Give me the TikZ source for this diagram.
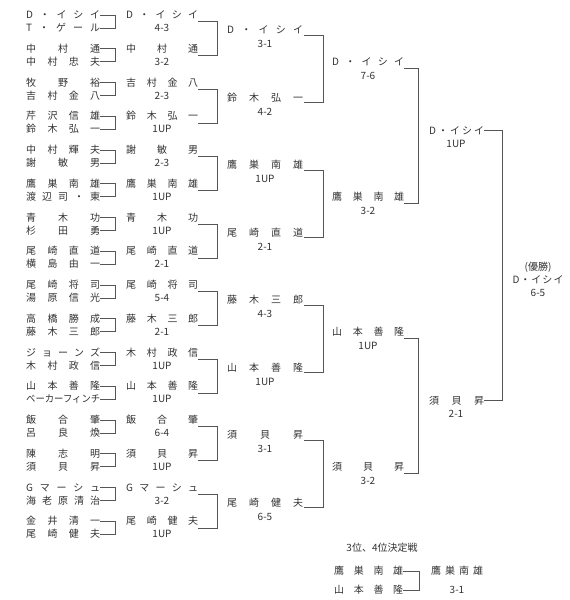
\documentclass[tikz,border=0pt]{standalone}
\usepackage{fontspec}
\usepackage{graphicx}
\setmainfont{Noto Sans CJK JP}
\definecolor{txt}{HTML}{333333}
\definecolor{ln}{HTML}{555555}
\def\spreadA#1{\ifx#1\relax\else #1\expandafter\spreadB\fi}
\def\spreadB#1{\ifx#1\relax\else\hfill #1\expandafter\spreadB\fi}
\newcommand\spr[2]{\makebox[#1][s]{\expandafter\spreadA#2\relax}}
\tikzset{
  nm/.style={inner sep=0pt, anchor=west, text=txt, font=\fontsize{10}{11}\selectfont, text height=8.2pt, text depth=1pt},
  sc/.style={inner sep=0pt, anchor=center, text=txt, font=\fontsize{10}{11}\selectfont, text height=8.2pt, text depth=1pt},
  br/.style={draw=ln, line width=0.9pt},
}
\begin{document}
\begin{tikzpicture}[x=1pt,y=-1pt]
\useasboundingbox (0,0) rectangle (570,600);
\fill[white] (0,0) rectangle (570,600);
% round 1 and its winners
\foreach \a/\b/\w/\s [count=\i from 0] in {%
D・イシイ/T・ゲール/D・イシイ/4-3,%
中村通/中村忠夫/中村通/3-2,%
牧野裕/吉村金八/吉村金八/2-3,%
芹沢信雄/鈴木弘一/鈴木弘一/1UP,%
中村輝夫/謝敏男/謝敏男/2-3,%
鷹巣南雄/渡辺司・東/鷹巣南雄/1UP,%
青木功/杉田勇/青木功/1UP,%
尾崎直道/横島由一/尾崎直道/2-1,%
尾崎将司/湯原信光/尾崎将司/5-4,%
高橋勝成/藤木三郎/藤木三郎/2-1,%
ジョーンズ/木村政信/木村政信/1UP,%
山本善隆/ベーカーフィンチ/山本善隆/1UP,%
飯合肇/呂良煥/飯合肇/6-4,%
陳志明/須貝昇/須貝昇/1UP,%
Gマーシュ/海老原清治/Gマーシュ/3-2,%
金井清一/尾崎健夫/尾崎健夫/1UP}{
  \pgfmathsetmacro\ty{15+33.75*\i}
  \node[nm] (pa\i) at (26,\ty) {\spr{74pt}{\a}};
  \ifnum\i=11
    \node[nm] (pb\i) at (26,\ty+13) {\resizebox{74pt}{\height}{ベーカーフィンチ}};
  \else
    \node[nm] (pb\i) at (26,\ty+13) {\spr{74pt}{\b}};
  \fi
  \node[nm] (w\i) at (126,\ty) {\spr{72pt}{\w}};
  \node[sc] (s\i) at (162,\ty+13) {\s};
  \draw[br] (pa\i.east) -- ++(15,0) |- (pb\i.east);
}
% round 2 winners
\foreach \w/\s [count=\k from 0] in {%
D・イシイ/3-1,鈴木弘一/4-2,鷹巣南雄/1UP,尾崎直道/2-1,%
藤木三郎/4-3,山本善隆/1UP,須貝昇/3-1,尾崎健夫/6-5}{
  \pgfmathsetmacro\ty{30+67.5*\k}
  \pgfmathtruncatemacro\ia{2*\k}
  \pgfmathtruncatemacro\ib{2*\k+1}
  \node[nm] (t\k) at (227,\ty) {\spr{76pt}{\w}};
  \node[sc] (ts\k) at (265,\ty+14) {\s};
  \draw[br] (w\ia.east) ++(0,6.75) -- ++(19,0) |- ([yshift=-6.75pt]w\ib.east);
}
% round 3 winners
\foreach \w/\s [count=\m from 0] in {%
D・イシイ/7-6,鷹巣南雄/3-2,山本善隆/1UP,須貝昇/3-2}{
  \pgfmathsetmacro\ty{62+135*\m}
  \pgfmathtruncatemacro\ia{2*\m}
  \pgfmathtruncatemacro\ib{2*\m+1}
  \node[nm] (u\m) at (332,\ty) {\spr{72pt}{\w}};
  \node[sc] (us\m) at (368,\ty+14) {\s};
  \draw[br] (t\ia.east) ++(1,5.25) -- ++(19,0) |- ([xshift=1pt,yshift=-5.25pt]t\ib.east);
}
% semifinal winners
\node[nm] (v0) at (429,130.5) {\spr{55pt}{D・イシイ}};
\node[sc] (vs0) at (456,144) {1UP};
\node[nm] (v1) at (429,400.5) {\spr{55pt}{須貝昇}};
\node[sc] (vs1) at (456,413.5) {2-1};
\draw[br] (u0.east) ++(0,6.5) -- ++(14,0) |- ([yshift=-6.5pt]u1.east);
\draw[br] (u2.east) ++(0,6.5) -- ++(14,0) |- ([yshift=-6.5pt]u3.east);
% final
\draw[br] (v0.east) -- ++(18,0) |- (v1.east);
\node[sc] (f1) at (538,267) {(優勝)};
\node[sc] (f2) at (538,280) {\spr{51pt}{D・イシイ}};
\node[sc] (f3) at (538,293) {6-5};
% third place
\node[sc] (q0) at (382,548) {3位、4位決定戦};
\node[nm] (qa) at (334,571) {\spr{69pt}{鷹巣南雄}};
\node[nm] (qb) at (334,590) {\spr{69pt}{山本善隆}};
\draw[br] (qa.east) -- ++(16,0) |- (qb.east);
\node[nm] (qw) at (431,571) {\spr{52pt}{鷹巣南雄}};
\node[sc] (qs) at (457,590) {3-1};
\end{tikzpicture}
\end{document}
